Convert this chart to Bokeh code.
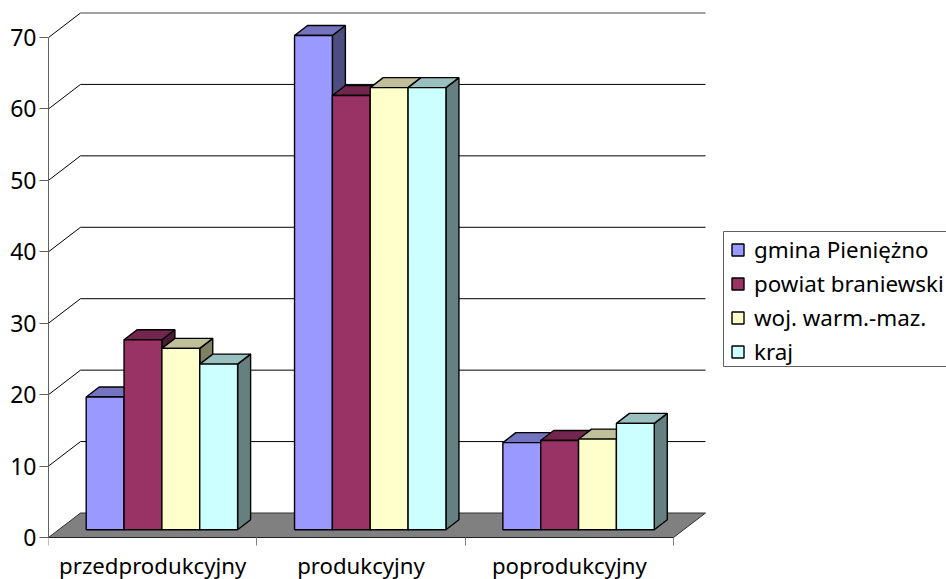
from bokeh.plotting import figure
from bokeh.models import FixedTicker, Legend, LegendItem, Range1d
from bokeh.embed import file_html
from bokeh.resources import INLINE

categories = ["przedprodukcyjny", "produkcyjny", "poprodukcyjny"]
series_names = ["gmina Pieniężno", "powiat braniewski", "woj. warm.-maz.", "kraj"]
gmina = [18.6, 69.2, 12.2]
powiat = [26.6, 60.8, 12.5]
wojewodztwo = [25.4, 61.9, 12.7]
kraj = [23.2, 61.9, 14.9]
y_ticks = [0, 10, 20, 30, 40, 50, 60, 70]

series = [gmina, powiat, wojewodztwo, kraj]
front = ["#9999FF", "#993366", "#FFFFCC", "#CCFFFF"]
top = ["#7373BF", "#73264D", "#BFBF99", "#99BFBF"]
side = ["#4D4D80", "#4D1A33", "#808066", "#668080"]

ORIGIN_X, ORIGIN_Y = 48, 537
W, H = 946, 579
FRAME_W, FRAME_H = W - ORIGIN_X, H
PX_X = 625 / 3
PX_Y = 500 / 70
WALL_DX, WALL_DY = 32 / PX_X, 24.5 / PX_Y
BAR_DX, BAR_DY = 13 / PX_X, 10 / PX_Y
BASE_Y = 7.7 / PX_Y
BAR_W = 37.85 / PX_X
LEAD = 37.7 / PX_X
n_cat = len(categories)
EDGE = 1.4

p = figure(width=W, height=H, output_backend="svg", toolbar_location=None,
           x_range=Range1d(0, FRAME_W / PX_X),
           y_range=Range1d(-(H - ORIGIN_Y) / PX_Y, ORIGIN_Y / PX_Y),
           min_border_left=ORIGIN_X, min_border_right=0, min_border_top=0,
           min_border_bottom=0)
p.outline_line_color = None
p.grid.visible = False
p.background_fill_color = "white"

# floor and back wall
p.patch([0, WALL_DX, n_cat + WALL_DX, n_cat], [0, WALL_DY, WALL_DY, 0],
        fill_color="#808080", line_color="#303030", line_width=1)
for v in y_ticks[1:]:
    c = "#808080" if v == y_ticks[-1] else "#000000"
    p.line([0, WALL_DX], [v, v + WALL_DY], line_color="#000000", line_width=1)
    p.line([WALL_DX, n_cat + WALL_DX], [v + WALL_DY, v + WALL_DY],
           line_color=c, line_width=1.5 if v == y_ticks[-1] else 1)

# 3-D bars, painted from left to right
legend_items = []
for c in range(n_cat):
    for s, vals in enumerate(series):
        x0 = c + LEAD + s * BAR_W
        x1 = x0 + BAR_W
        y0 = BASE_Y
        y1 = BASE_Y + vals[c]
        p.patch([x1, x1 + BAR_DX, x1 + BAR_DX, x1], [y0, y0 + BAR_DY, y1 + BAR_DY, y1],
                fill_color=side[s], line_color="#000000", line_width=EDGE)
        p.patch([x0, x0 + BAR_DX, x1 + BAR_DX, x1], [y1, y1 + BAR_DY, y1 + BAR_DY, y1],
                fill_color=top[s], line_color="#000000", line_width=EDGE)
        r = p.quad(left=[x0], right=[x1], bottom=[y0], top=[y1],
                   fill_color=front[s], line_color="#000000", line_width=EDGE)
        if c == 0:
            legend_items.append(LegendItem(label=series_names[s], renderers=[r]))

FONT = "Noto Sans"
xa = p.xaxis[0]
xa.fixed_location = 0
xa.bounds = (0, n_cat)
xa.ticker = FixedTicker(ticks=[i + 0.5 for i in range(n_cat)], minor_ticks=list(range(n_cat + 1)))
xa.major_label_overrides = {i + 0.5: categories[i] for i in range(n_cat)}
xa.major_tick_in = 0
xa.major_tick_out = 0
xa.minor_tick_in = 0
xa.minor_tick_out = 8
xa.minor_tick_line_color = "#808080"
xa.axis_line_color = "#202020"
xa.major_label_text_font = FONT
xa.major_label_text_font_size = "22.2px"
xa.major_label_text_color = "#000000"
xa.major_label_standoff = 4

ya = p.yaxis[0]
ya.bounds = (0, y_ticks[-1])
ya.ticker = FixedTicker(ticks=y_ticks)
ya.major_tick_in = 0
ya.major_tick_out = 9
ya.major_tick_line_color = "#606060"
ya.axis_line_color = "#606060"
ya.major_label_text_font = FONT
ya.major_label_text_font_size = "23px"
ya.major_label_text_color = "#000000"
ya.major_label_standoff = 3

# legend frame, open at the picture's right edge as in the reference
p.quad(left=[(723 - ORIGIN_X) / PX_X], right=[(960 - ORIGIN_X) / PX_X],
       bottom=[(ORIGIN_Y - 366) / PX_Y], top=[(ORIGIN_Y - 231) / PX_Y],
       fill_color="white", line_color="#606060", line_width=1)

legend = Legend(items=legend_items, location=(730 - ORIGIN_X, H - 367), orientation="vertical",
                label_text_font=FONT, label_text_font_size="22.4px", label_text_color="#000000",
                glyph_width=15, glyph_height=15, label_standoff=9, spacing=3,
                label_height=26, padding=0, margin=0, border_line_color=None,
                background_fill_alpha=0)
p.add_layout(legend)

open("out.html", "w").write(file_html(p, INLINE))
